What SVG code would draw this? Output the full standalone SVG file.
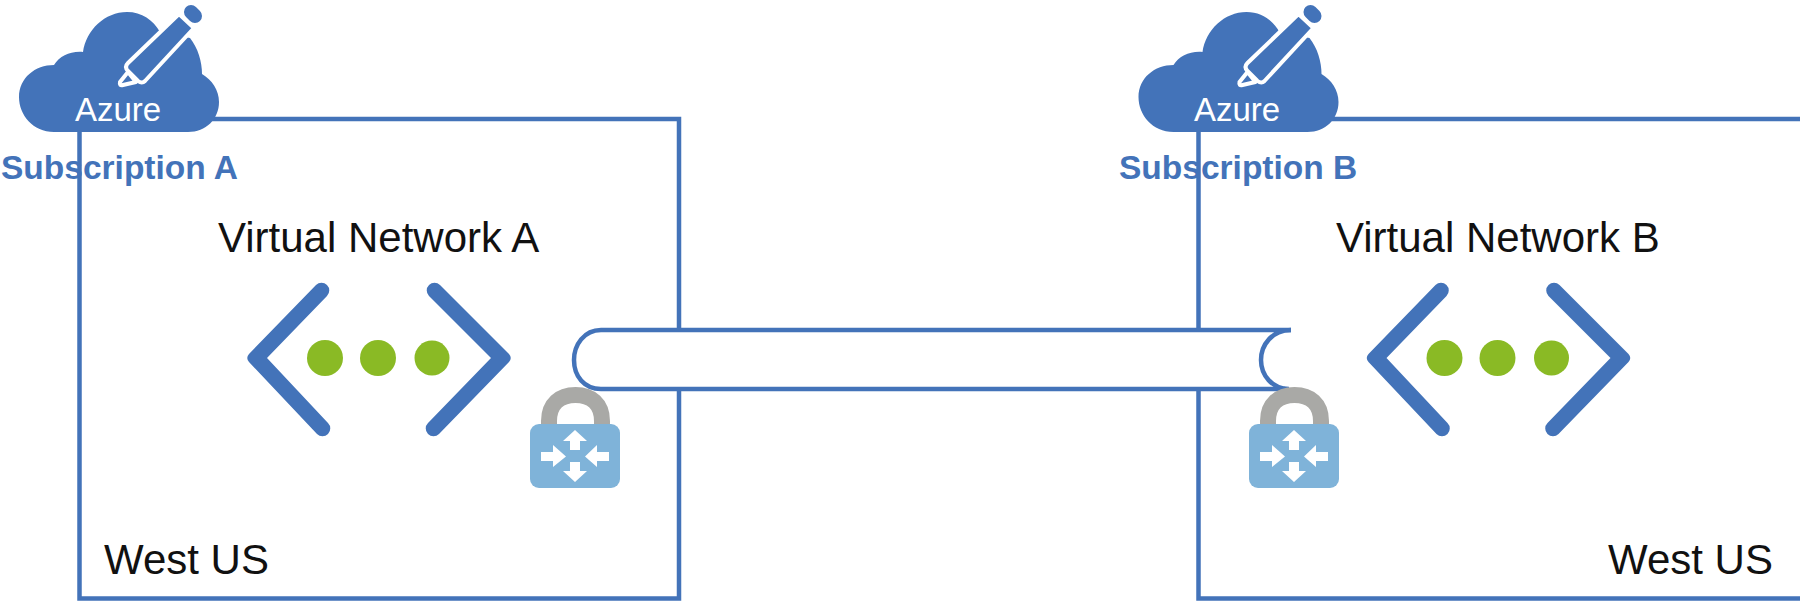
<svg xmlns="http://www.w3.org/2000/svg" width="1800" height="601" viewBox="0 0 1800 601">
<style>
text{font-family:"Liberation Sans",Arial,sans-serif}
.frame{fill:none;stroke:#4373b9;stroke-width:4.500}
.lbl{font-size:42px;fill:#111}
.az{font-size:33px;fill:#fff}
.sub{font-size:33.500px;font-weight:bold;fill:#4373b9}
.chev{fill:#4373b9}
.dot{fill:#8aba25}
.pen{fill:#4373b9;stroke:#fff;stroke-width:4;stroke-linejoin:round}
.tube{fill:#fff;stroke:none}
.tl{fill:none;stroke:#4373b9;stroke-width:4.500}
</style>
<defs>
<g id="cloud">
<path fill="#4373b9" d="M54 132C33 132 19 115 19 97C19 78 35 65 54 65C60 56 70 51 83 52C86 30 105 12 127 12C142 12 153 20 160 32L190 38C198 48 202 62 202 74C212 80 219 90 219 102C219 119 206 132 188 132Z"/>
<path class="pen" d="M179 14L194 28L145 81Q142 84 138 81L128 71Q124 67 128 63Z"/>
<path class="pen" d="M128 72L136 82L123 85Q119 86 120 82Z"/>
<path fill="none" stroke="#4373b9" stroke-width="14" stroke-linecap="round" d="M191 12L195 16"/>
</g>
<g id="net">
<path class="chev" d="M316 285A7.500 7.500 0 0 1 327 296L267 358L328 423A7.500 7.500 0 0 1 317 434L249 362Q245.500 358 249 354Z"/>
<path class="chev" d="M440 285A7.500 7.500 0 0 0 429 296L491 358L428 423A7.500 7.500 0 0 0 439 434L509 362Q512.500 358 509 354Z"/>
<circle class="dot" cx="325" cy="358" r="18"/>
<circle class="dot" cx="378" cy="358" r="18"/>
<circle class="dot" cx="432" cy="358" r="17.500"/>
</g>
<g id="lock">
<path fill="none" stroke="#a9a9a6" stroke-width="16" d="M549 426V421C549 404 560 395 575.500 395C591 395 602 404 602 421V426"/>
<rect x="530" y="424" width="90" height="64" rx="9" fill="#7fb3d9"/>
<path fill="#fff" d="M575 430L587 441H580V450H570V441H563ZM575 482L587 471H580V462H570V471H563ZM541 452H553V445L566 456.500L553 467V461H541ZM609 452H597V445L585 456.500L597 467V461H609Z"/>
</g>
</defs>
<g id="connectors">
<path class="frame" d="M79.500 119H679V598.500H79.500Z"/>
<path class="frame" d="M1800 119H1198.500V598.500H1800"/>
<path class="tube" d="M601 331H1291Q1262 335 1262 360Q1262 383 1285 389H601Q574 385 574 360Q574 335 601 331Z"/>
<path class="tl" d="M1291 330H601C584 330 574 345 574 360C574 376 584 389 601 389H1285"/>
<path class="tl" d="M1291 330C1272 330 1261 345 1261 360C1261 375 1272 389 1289 389"/>
</g>
<g id="subscription-a">
<use href="#cloud"/>
<text class="az" x="75" y="121">Azure</text>
<text class="sub" x="1" y="179">Subscription A</text>
</g>
<g id="subscription-b">
<use href="#cloud" x="1119.500"/>
<text class="az" x="1194" y="121">Azure</text>
<text class="sub" x="1119" y="179">Subscription B</text>
</g>
<g id="vnet-a">
<text class="lbl" x="218" y="252">Virtual Network A</text>
<use href="#net"/>
<text class="lbl" x="104" y="574">West US</text>
</g>
<g id="vnet-b">
<text class="lbl" x="1336" y="252">Virtual Network B</text>
<use href="#net" x="1119.500"/>
<text class="lbl" x="1608" y="574">West US</text>
</g>
<g id="gateway-a"><use href="#lock"/></g>
<g id="gateway-b"><use href="#lock" x="719"/></g>
</svg>
